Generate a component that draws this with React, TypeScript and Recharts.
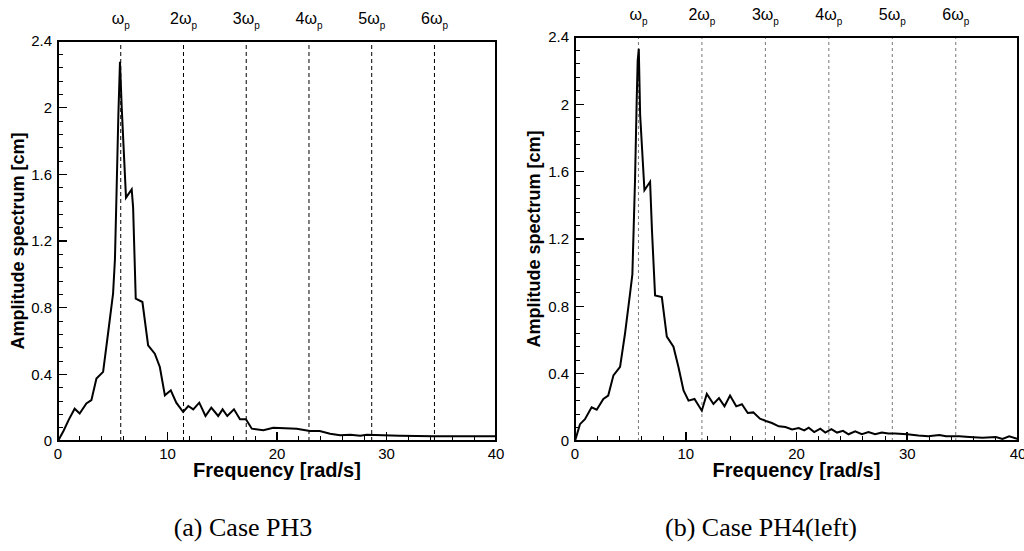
import React from 'react';
import { LineChart, Line, XAxis, YAxis, ReferenceLine } from 'recharts';

// Case PH3 (left chart)
const freqPH3 = [0, 0.5, 1.0, 1.52, 1.98, 2.59, 3.05, 3.51, 4.12, 4.57, 5.03, 5.2, 5.35, 5.51, 5.66, 5.82, 6.0, 6.21, 6.73, 6.86, 7.1, 7.71, 8.23, 8.84, 9.3, 9.76, 10.3, 10.8, 11.43, 11.9, 12.35, 12.9, 13.47, 14.0, 14.63, 15.03, 15.46, 16.07, 16.62, 17.16, 17.7, 18.75, 19.66, 21.8, 23.0, 23.9, 24.85, 25.76, 26.7, 27.6, 28.2, 29.7, 31.2, 34.3, 40];
const ampPH3 = [0, 0.06, 0.13, 0.194, 0.165, 0.225, 0.245, 0.375, 0.415, 0.645, 0.885, 1.09, 1.5, 1.95, 2.275, 2.0, 1.75, 1.46, 1.51, 1.4, 0.854, 0.834, 0.574, 0.524, 0.444, 0.274, 0.304, 0.23, 0.174, 0.21, 0.19, 0.23, 0.15, 0.2, 0.15, 0.19, 0.15, 0.19, 0.13, 0.13, 0.074, 0.064, 0.08, 0.074, 0.06, 0.06, 0.044, 0.034, 0.038, 0.032, 0.038, 0.034, 0.032, 0.028, 0.028];

// Case PH4(left) (right chart)
const freqPH4 = [0, 0.45, 0.9, 1.5, 1.96, 2.56, 3.0, 3.47, 4.07, 4.52, 4.97, 5.18, 5.42, 5.57, 5.66, 5.76, 5.88, 6.27, 6.78, 6.95, 7.23, 7.84, 8.29, 8.89, 9.34, 9.8, 10.25, 10.79, 11.45, 11.9, 12.5, 13.0, 13.5, 14.0, 14.56, 15.07, 15.6, 16.1, 16.7, 17.24, 17.78, 18.4, 19.0, 19.6, 20.2, 20.7, 21.1, 21.6, 22.15, 22.6, 23.15, 23.66, 24.2, 24.7, 25.3, 25.9, 26.5, 27.1, 27.7, 28.3, 28.9, 30.0, 31.0, 31.9, 32.9, 33.5, 34.7, 35.6, 36.8, 38.0, 38.6, 39.2, 40];
const ampPH4 = [0, 0.1, 0.13, 0.2, 0.186, 0.25, 0.27, 0.39, 0.44, 0.64, 0.875, 0.99, 1.55, 2.02, 2.26, 2.33, 1.94, 1.49, 1.54, 1.25, 0.865, 0.855, 0.62, 0.56, 0.44, 0.3, 0.24, 0.25, 0.18, 0.28, 0.22, 0.255, 0.206, 0.27, 0.206, 0.218, 0.166, 0.17, 0.133, 0.119, 0.107, 0.087, 0.083, 0.069, 0.077, 0.063, 0.079, 0.053, 0.073, 0.05, 0.071, 0.05, 0.06, 0.04, 0.057, 0.04, 0.053, 0.04, 0.051, 0.044, 0.044, 0.04, 0.032, 0.028, 0.036, 0.028, 0.028, 0.024, 0.02, 0.024, 0.012, 0.028, 0.012];

// Harmonics of the peak frequency
const harmonicFreqs = [5.73, 11.46, 17.19, 22.92, 28.65, 34.38];
const harmonicPrefixes = ['', '2', '3', '4', '5', '6'];

// Axis ticks (all positions, and the labelled ones)
const xAllTicks = [0, 2, 4, 6, 8, 10, 12, 14, 16, 18, 20, 22, 24, 26, 28, 30, 32, 34, 36, 38, 40];
const xMajorTicks = [0, 10, 20, 30, 40];
const yAllTicks = [0, 0.08, 0.16, 0.24, 0.32, 0.4, 0.48, 0.56, 0.64, 0.72, 0.8, 0.88, 0.96, 1.04, 1.12, 1.2, 1.28, 1.36, 1.44, 1.52, 1.6, 1.68, 1.76, 1.84, 1.92, 2, 2.08, 2.16, 2.24, 2.32, 2.4];
const yMajorTicks = [0, 0.4, 0.8, 1.2, 1.6, 2, 2.4];

const xDomain = [0, 40];
const yDomain = [0, 2.4];

const xTitle = 'Frequency [rad/s]';
const yTitle = 'Amplitude spectrum [cm]';
const captions = ['(a) Case PH3', '(b) Case PH4(left)'];

const SANS = '"Liberation Sans", Arial, Helvetica, sans-serif';
const SERIF = '"Liberation Serif", "Times New Roman", serif';

const CHART_W = 512;
const CHART_H = 480;

const tickText = { fill: '#000', stroke: 'none', fontSize: 15, fontFamily: SANS };

type Plot = { left: number; top: number; width: number; height: number };

// Plot frame with inward tick marks, laid over the plot area of the chart
function FrameOverlay({ plot }: { plot: Plot }) {
  const { left, top, width, height } = plot;
  const bottom = top + height;
  const sx = (v: number) => left + ((v - xDomain[0]) / (xDomain[1] - xDomain[0])) * width;
  const sy = (v: number) => bottom - ((v - yDomain[0]) / (yDomain[1] - yDomain[0])) * height;
  return (
    <div style={{ position: 'absolute', left: 0, top: 0, width: CHART_W, height: CHART_H, pointerEvents: 'none' }}>
      {xAllTicks.map((v) => {
        const major = xMajorTicks.includes(v);
        const len = major ? 9 : 5;
        const w = major ? 1.6 : 1;
        return <div key={`xt${v}`} style={{ position: 'absolute', left: sx(v) - w / 2, top: bottom - len, width: w, height: len, background: '#000' }} />;
      })}
      {yAllTicks.map((v) => {
        const major = yMajorTicks.includes(v);
        const len = major ? 9 : 5;
        const w = major ? 1.6 : 1;
        return <div key={`yt${v}`} style={{ position: 'absolute', left, top: sy(v) - w / 2, width: len, height: w, background: '#000' }} />;
      })}
      <div style={{ position: 'absolute', left: left - 1, top: top - 1, width: width + 2, height: height + 2, border: '2px solid #000', boxSizing: 'border-box' }} />
    </div>
  );
}

type ChartProps = {
  freqs: number[];
  amps: number[];
  left: number;
  plot: Plot;
  yTitleX: number;
  dashColor: string;
  dashArray: string;
};

function SpectrumChart({ freqs, amps, left, plot, yTitleX, dashColor, dashArray }: ChartProps) {
  const data = freqs.map((f, i) => ({ f, a: amps[i] }));
  const marginRight = CHART_W - plot.left - plot.width;
  const xAxisHeight = CHART_H - plot.top - plot.height;
  return (
    <div style={{ position: 'absolute', left, top: 0, width: CHART_W, height: CHART_H }}>
      <LineChart width={CHART_W} height={CHART_H} data={data} margin={{ top: plot.top, right: marginRight, bottom: 0, left: 0 }}>
        <XAxis
          dataKey="f"
          type="number"
          domain={xDomain}
          ticks={xMajorTicks}
          interval={0}
          tickSize={0}
          tickMargin={7}
          tick={tickText}
          tickLine={false}
          axisLine={false}
          height={xAxisHeight}
          label={(p: any) => {
            const vb = p.viewBox || {};
            return (
              <text x={vb.x + vb.width / 2} y={vb.y + 36} textAnchor="middle" fontFamily={SANS} fontWeight="bold" fontSize={20} fill="#000">
                {xTitle}
              </text>
            );
          }}
        />
        <YAxis
          type="number"
          domain={yDomain}
          ticks={yMajorTicks}
          interval={0}
          tickSize={0}
          tickMargin={6}
          tick={tickText}
          tickLine={false}
          axisLine={false}
          width={plot.left}
          label={(p: any) => {
            const vb = p.viewBox || {};
            const cy = vb.y + vb.height / 2;
            return (
              <text x={yTitleX} y={cy} transform={`rotate(-90, ${yTitleX}, ${cy})`} textAnchor="middle" dominantBaseline="central" fontFamily={SANS} fontWeight="bold" fontSize={18} fill="#000">
                {yTitle}
              </text>
            );
          }}
        />
        {harmonicFreqs.map((hf, i) => (
          <ReferenceLine
            key={`h${i}`}
            x={hf}
            stroke={dashColor}
            strokeWidth={1}
            strokeDasharray={dashArray}
            label={(p: any) => {
              const vb = p.viewBox || {};
              return (
                <text x={vb.x} y={vb.y - 17} textAnchor="middle" fontFamily={SANS} fontSize={16} fill="#000">
                  {harmonicPrefixes[i]}ω
                  <tspan dy={5} fontSize={10}>p</tspan>
                </text>
              );
            }}
          />
        ))}
        <Line type="linear" dataKey="a" stroke="#000" strokeWidth={2} dot={false} isAnimationActive={false} />
      </LineChart>
      <FrameOverlay plot={plot} />
    </div>
  );
}

export default function App() {
  return (
    <div style={{ position: 'absolute', left: 0, top: 0, width: 1024, height: 551, background: '#fff' }}>
      <SpectrumChart
        freqs={freqPH3}
        amps={ampPH3}
        left={0}
        plot={{ left: 58, top: 41, width: 438, height: 400 }}
        yTitleX={18}
        dashColor="#000"
        dashArray="4 3"
      />
      <SpectrumChart
        freqs={freqPH4}
        amps={ampPH4}
        left={512}
        plot={{ left: 63, top: 37, width: 443, height: 404 }}
        yTitleX={22}
        dashColor="#777"
        dashArray="3 3"
      />
      <div style={{ position: 'absolute', left: 0, width: 486, top: 515, textAlign: 'center', fontFamily: SERIF, fontSize: 26, lineHeight: '26px', color: '#000' }}>
        {captions[0]}
      </div>
      <div style={{ position: 'absolute', left: 512, width: 498, top: 515, textAlign: 'center', fontFamily: SERIF, fontSize: 26, lineHeight: '26px', color: '#000' }}>
        {captions[1]}
      </div>
    </div>
  );
}
